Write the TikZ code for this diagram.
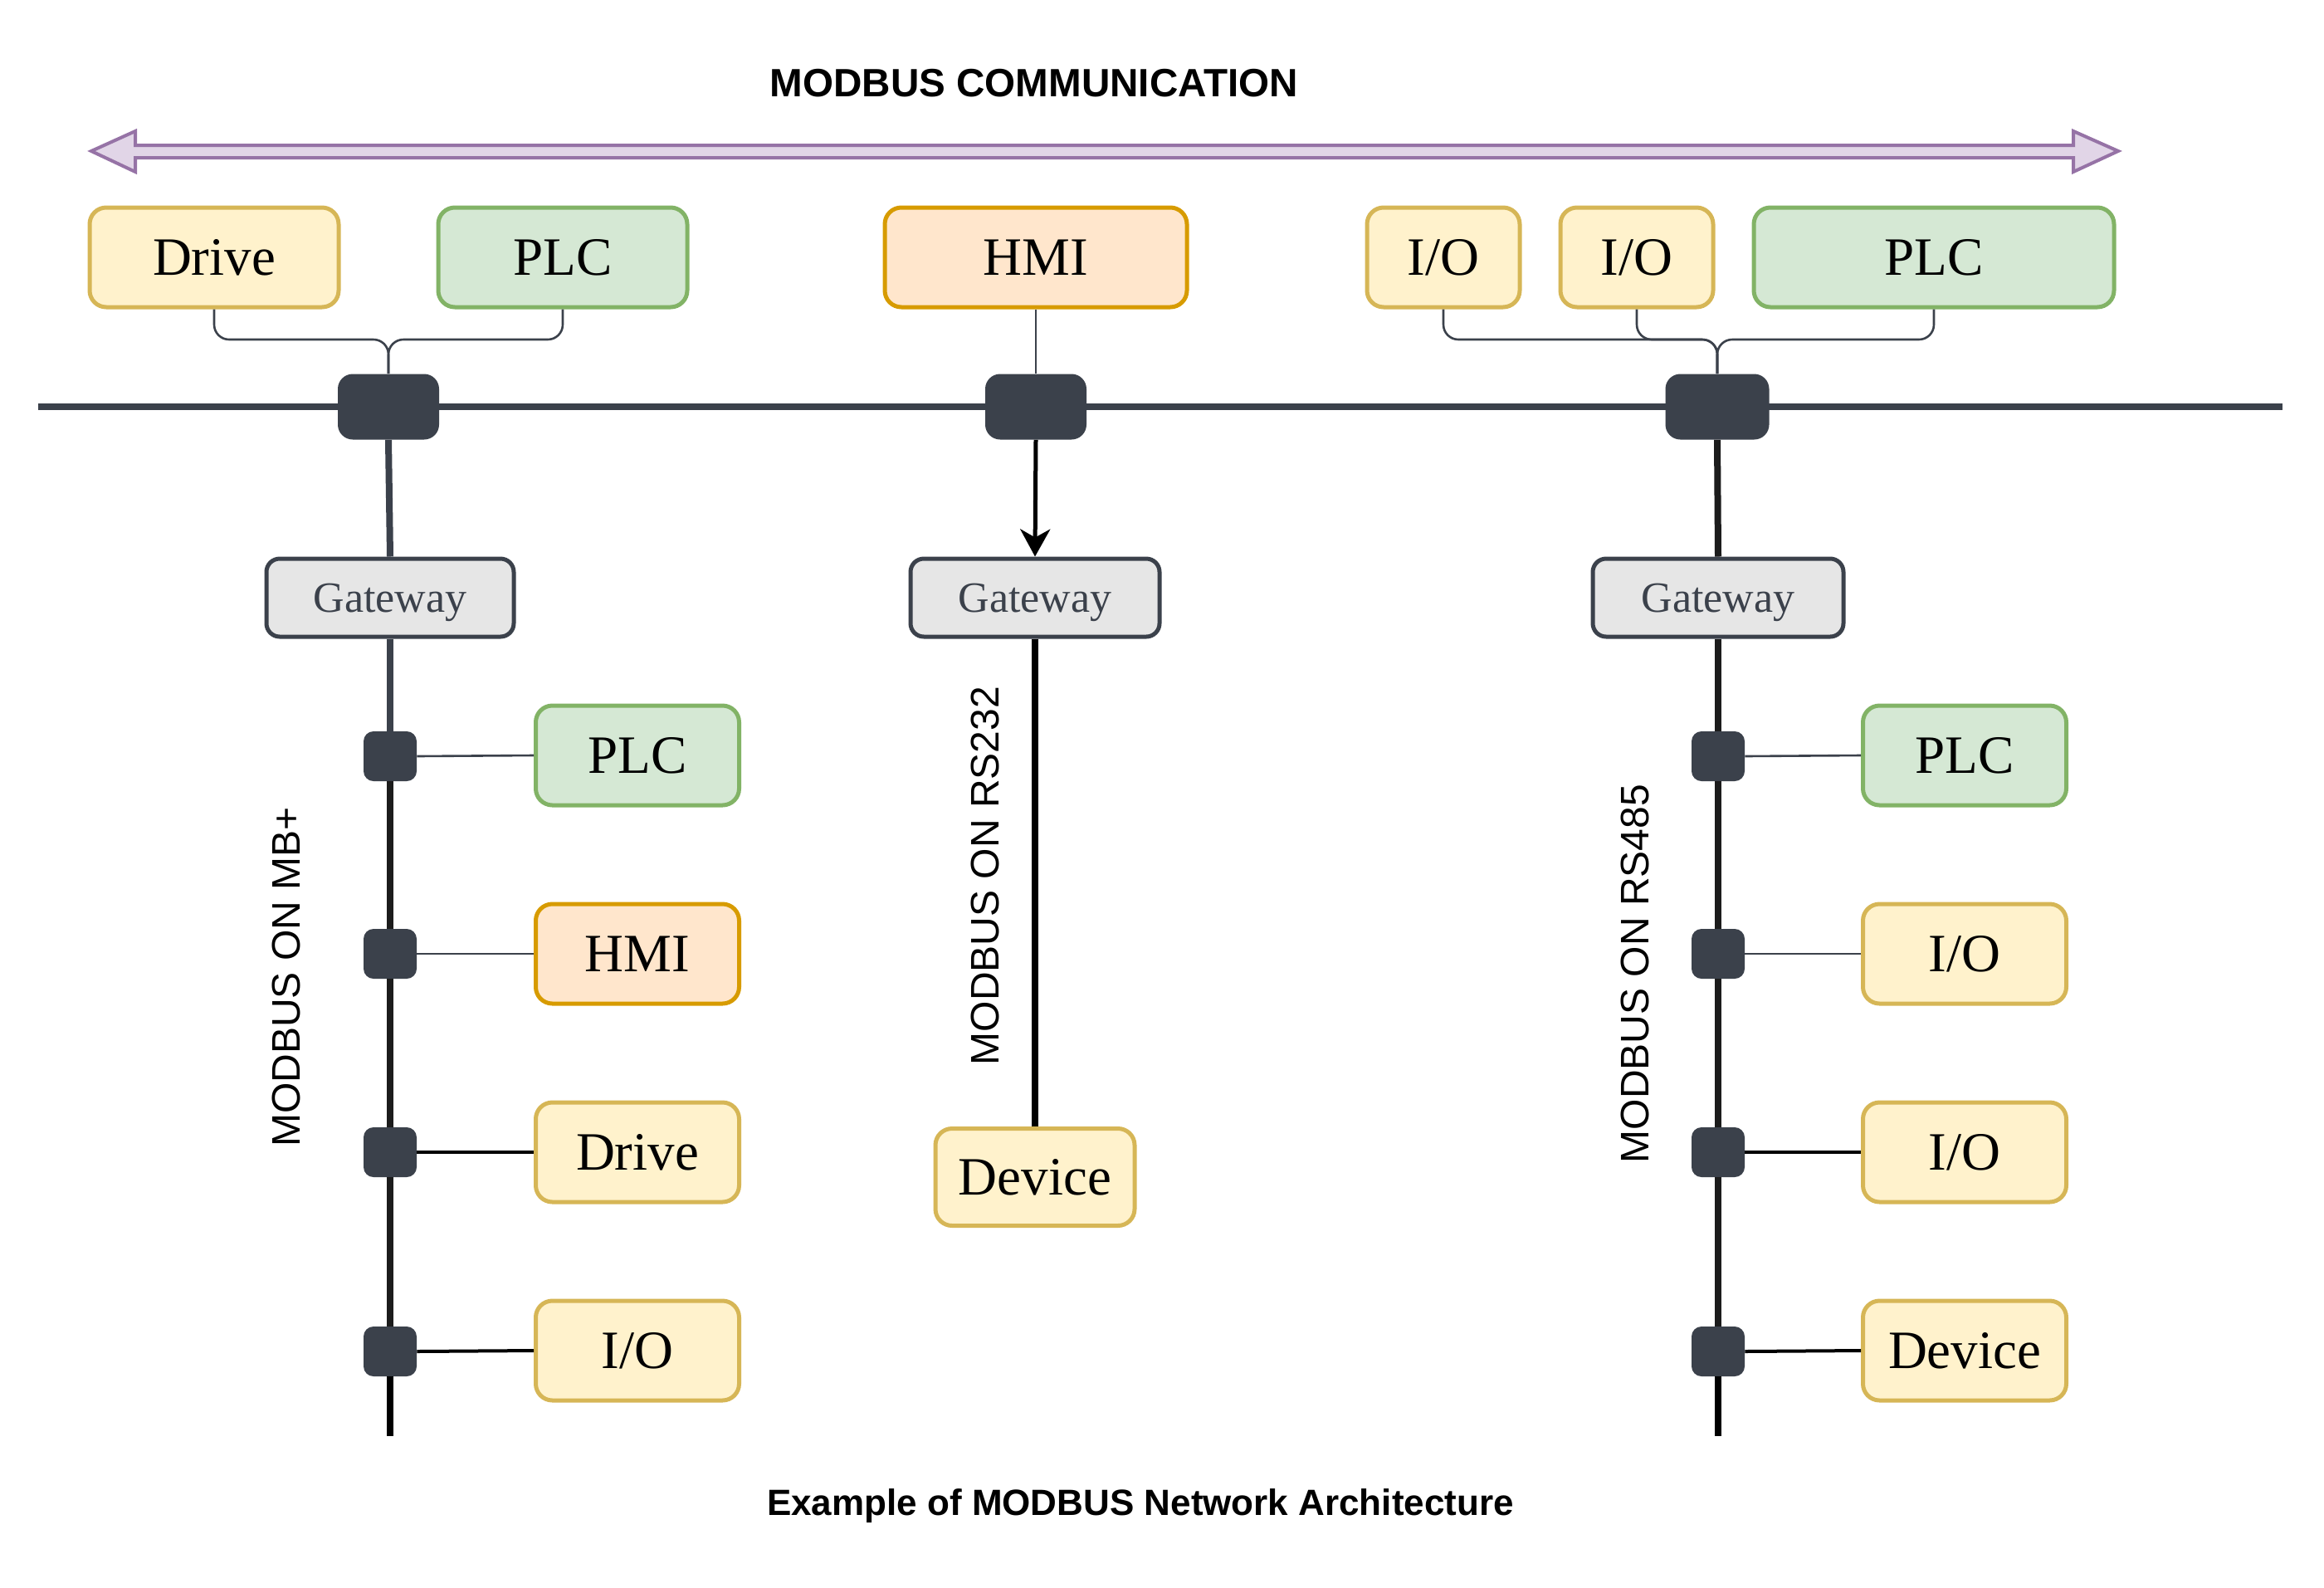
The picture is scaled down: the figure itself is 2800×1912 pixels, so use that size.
\documentclass[tikz,border=0pt]{standalone}
\usepackage{fontspec}
\setmainfont{Liberation Serif}
\newfontfamily\sansf{Liberation Sans}
\usetikzlibrary{arrows.meta}
\definecolor{yfill}{HTML}{FFF2CC}
\definecolor{ydraw}{HTML}{D6B656}
\definecolor{gfill}{HTML}{D5E8D4}
\definecolor{gdraw}{HTML}{82B366}
\definecolor{ofill}{HTML}{FFE6CC}
\definecolor{odraw}{HTML}{D79B00}
\definecolor{pfill}{HTML}{E1D5E7}
\definecolor{pdraw}{HTML}{9673A6}
\definecolor{slate}{HTML}{3B414B}
\definecolor{gwfill}{HTML}{E6E6E6}
\definecolor{nearblack}{HTML}{1C1C1C}
\begin{document}
\begin{tikzpicture}[x=0.5pt,y=-0.5pt,
  dev/.style={rounded corners=10pt, line width=2.5pt, minimum height=60pt,
    inner sep=0pt, font=\fontsize{32.5}{36}\selectfont, text=black,
    text height=28.9pt, text depth=7pt},
  ybox/.style={dev, fill=yfill, draw=ydraw},
  gbox/.style={dev, fill=gfill, draw=gdraw},
  obox/.style={dev, fill=ofill, draw=odraw},
  gwbox/.style={rounded corners=8pt, line width=2.5pt, fill=gwfill, draw=slate,
    text=slate, minimum width=150pt, minimum height=47pt, inner sep=0pt,
    font=\fontsize{26}{30}\selectfont, text height=23.2pt, text depth=5.6pt},
  switchbox/.style={rounded corners=9pt, fill=slate, draw=none, minimum width=61pt,
    minimum height=39.5pt, inner sep=0pt},
  tapbox/.style={rounded corners=6pt, fill=slate, draw=none, minimum width=32pt,
    minimum height=30pt, inner sep=0pt},
  thinline/.style={draw=slate, line width=1.3pt},
  thickline/.style={draw=black, line width=2pt},
  busline/.style={draw=slate, line width=4pt},
  vbus/.style={draw=nearblack, line width=4pt},
  lbl/.style={font=\sansf\fontsize{24}{28}\selectfont, rotate=90, inner sep=0pt},
  ttl/.style={font=\sansf\bfseries\fontsize{23.8}{28}\selectfont, inner sep=0pt}
]
\useasboundingbox (0,0) rectangle (2800,1912);

% title and double arrow
\node[ttl] (title) at (1246,100) {MODBUS COMMUNICATION};
\draw[fill=pfill, draw=pdraw, line width=2pt, line join=miter]
  (110,182) -- (163,158) -- (163,175) -- (2498,175) -- (2498,158) -- (2552,182)
  -- (2498,207) -- (2498,190) -- (163,190) -- (163,207) -- cycle;

% main bus
\coordinate (busL) at (46,490);
\coordinate (busR) at (2750,490);
\draw[busline] (busL) -- (busR);

% top devices
\node[ybox, minimum width=150pt] (drive) at (258,310) {Drive};
\node[gbox, minimum width=150pt] (plcA) at (678,310) {PLC};
\node[obox, minimum width=182pt] (hmiT) at (1248,310) {HMI};
\node[ybox, minimum width=92pt] (ioA) at (1739,310) {I/O};
\node[ybox, minimum width=92pt] (ioB) at (1972,310) {I/O};
\node[gbox, minimum width=217pt] (plcB) at (2330,310) {PLC};

% switches on the main bus
\node[switchbox] (s1) at (468,490) {};
\node[switchbox] (s2) at (1248,490) {};
\node[switchbox, minimum width=62.5pt] (s3) at (2069,490) {};

% top connectors
\coordinate (jl) at (468,409);
\coordinate (jr) at (2069,409);
\draw[thinline, rounded corners=9pt] (drive.south) |- (jl) -- (s1.north);
\draw[thinline, rounded corners=9pt] (plcA.south) |- (jl) -- (s1.north);
\draw[thinline] (hmiT.south) -- (s2.north);
\draw[thinline, rounded corners=9pt] (ioA.south) |- (jr) -- (s3.north);
\draw[thinline, rounded corners=9pt] (ioB.south) |- (jr) -- (s3.north);
\draw[thinline, rounded corners=9pt] (plcB.south) |- (jr) -- (s3.north);

% gateways
\node[gwbox, minimum width=149pt] (g1) at (470,720) {Gateway};
\node[gwbox] (g2) at (1247,720) {Gateway};
\node[gwbox, minimum width=151pt] (g3) at (2070,720) {Gateway};

\draw[busline] (s1.south) -- (g1.north);
\draw[black, line width=2.5pt, -{Stealth[length=16.5pt, width=18pt, inset=5pt]}] (s2.south) -- (g2.north);
\draw[vbus] (s3.south) -- (g3.north);

% left branch (MB+)
\node[tapbox] (l1) at (470,911) {};
\node[tapbox] (l2) at (470,1149) {};
\node[tapbox] (l3) at (470,1388) {};
\node[tapbox] (l4) at (470,1628) {};
\coordinate (lend) at (470,1730);
\node[gbox, minimum width=122.5pt] (lplc) at (768,910) {PLC};
\node[obox, minimum width=122.5pt] (lhmi) at (768,1149) {HMI};
\node[ybox, minimum width=122.5pt] (ldrive) at (768,1388) {Drive};
\node[ybox, minimum width=122.5pt] (lio) at (768,1627) {I/O};
\draw[busline] (g1.south) -- (l1.north);
\draw[vbus] (l1.south) -- (l2.north);
\draw[vbus] (l2.south) -- (l3.north);
\draw[vbus] (l3.south) -- (l4.north);
\draw[vbus, draw=black] (l4.south) -- (lend);
\draw[thinline] (l1.east) -- (lplc.west);
\draw[thinline] (l2.east) -- (lhmi.west);
\draw[thickline] (l3.east) -- (ldrive.west);
\draw[thickline] (l4.east) -- (lio.west);
\node[lbl] (lblA) at (345,1177) {MODBUS ON MB+};

% middle branch (RS232)
\node[ybox, minimum width=120pt, minimum height=58.5pt] (mdev) at (1247,1418) {Device};
\draw[vbus, draw=black] (g2.south) -- (mdev.north);
\node[lbl] (lblB) at (1187,1055) {MODBUS ON RS232};

% right branch (RS485)
\node[tapbox] (r1) at (2070,911) {};
\node[tapbox] (r2) at (2070,1149) {};
\node[tapbox] (r3) at (2070,1388) {};
\node[tapbox] (r4) at (2070,1628) {};
\coordinate (rend) at (2070,1730);
\node[gbox, minimum width=122.5pt] (rplc) at (2367,910) {PLC};
\node[ybox, minimum width=122.5pt] (rio1) at (2367,1149) {I/O};
\node[ybox, minimum width=122.5pt] (rio2) at (2367,1388) {I/O};
\node[ybox, minimum width=122.5pt] (rdev) at (2367,1627) {Device};
\draw[vbus] (g3.south) -- (r1.north);
\draw[vbus] (r1.south) -- (r2.north);
\draw[vbus] (r2.south) -- (r3.north);
\draw[vbus] (r3.south) -- (r4.north);
\draw[vbus, draw=black] (r4.south) -- (rend);
\draw[thinline] (r1.east) -- (rplc.west);
\draw[thinline] (r2.east) -- (rio1.west);
\draw[thickline] (r3.east) -- (rio2.west);
\draw[thickline] (r4.east) -- (rdev.west);
\node[lbl] (lblC) at (1970,1173) {MODBUS ON RS485};

% caption
\node[ttl, font=\sansf\bfseries\fontsize{22}{26}\selectfont] (caption) at (1374,1814) {Example of MODBUS Network Architecture};
\end{tikzpicture}
\end{document}
